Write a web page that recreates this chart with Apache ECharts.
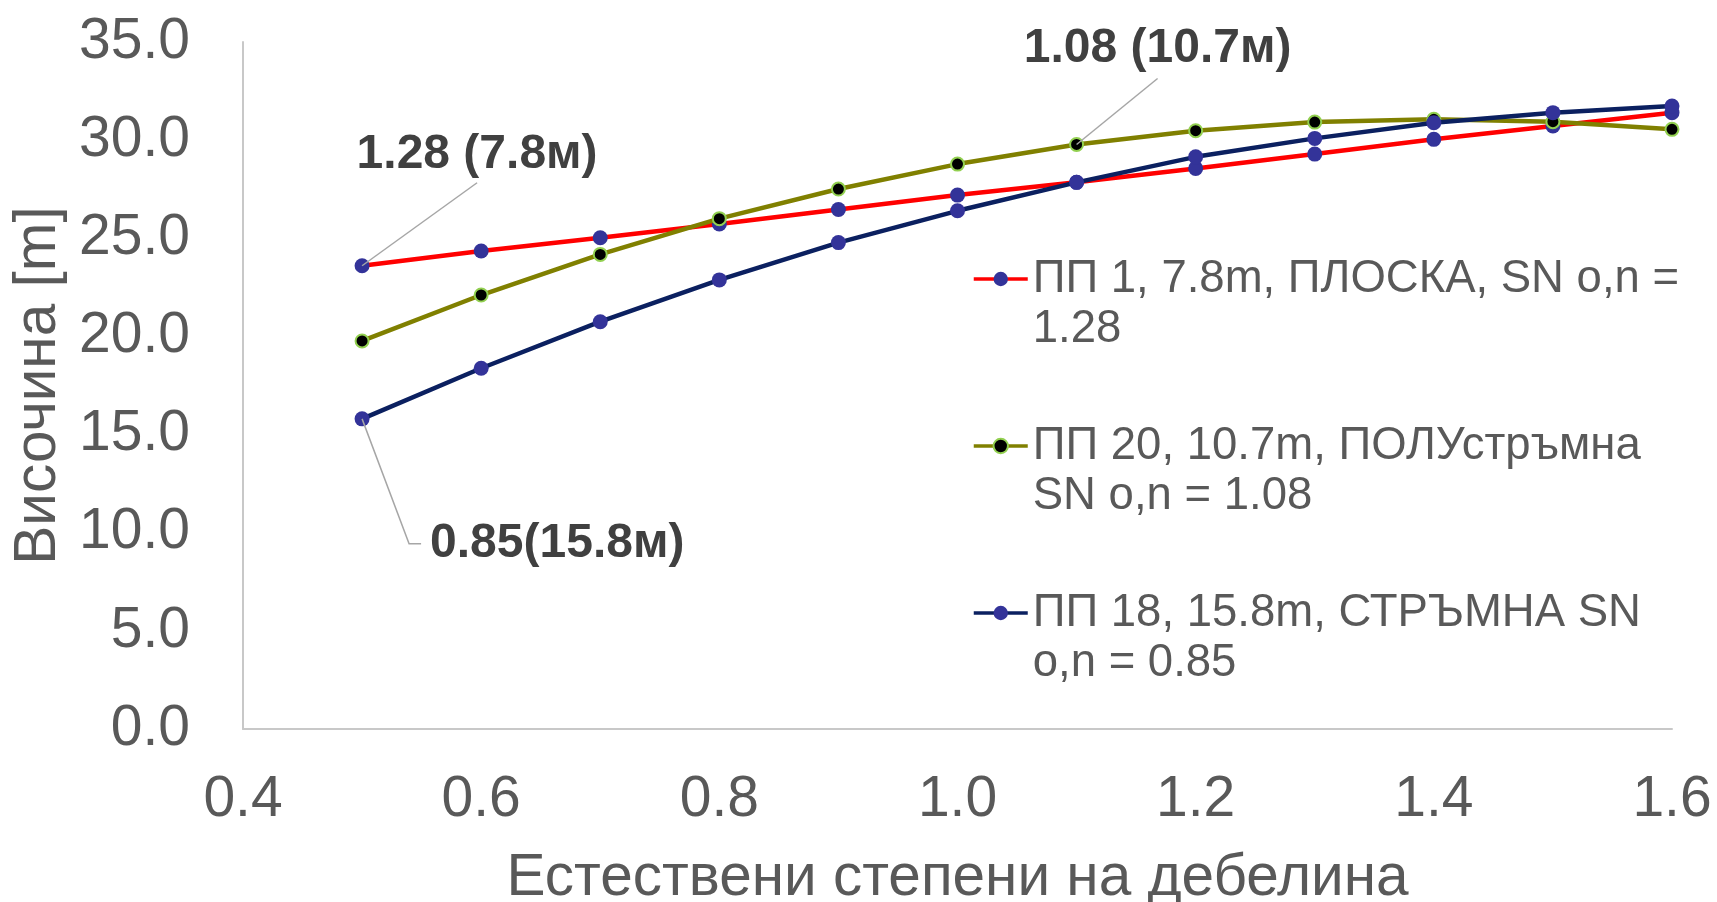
<!DOCTYPE html>
<html>
<head>
<meta charset="utf-8">
<title>Височина и естествени степени на дебелина</title>
<script src="https://cdn.jsdelivr.net/npm/echarts@6/dist/echarts.min.js"></script>
<style>
  html, body { margin: 0; padding: 0; background: #ffffff; }
  #chart { width: 1717px; height: 902px; }
</style>
</head>
<body>
<div id="chart"></div>
<script>
// Natural thickness degrees (x) and tree heights in metres (y) for three sample plots
const xValues = [0.5, 0.6, 0.7, 0.8, 0.9, 1.0, 1.1, 1.2, 1.3, 1.4, 1.5, 1.6];
const heightsPP1 = [23.6, 24.35, 25.03, 25.73, 26.47, 27.2, 27.85, 28.56, 29.29, 30.04, 30.72, 31.4];
const heightsPP20 = [19.77, 22.11, 24.18, 26.0, 27.51, 28.78, 29.78, 30.48, 30.92, 31.06, 30.94, 30.55];
const heightsPP18 = [15.8, 18.38, 20.75, 22.88, 24.78, 26.4, 27.85, 29.15, 30.09, 30.89, 31.4, 31.74];

const seriesLegendLines = [
  ['ПП 1, 7.8m, ПЛОСКА, SN o,n =', '1.28'],
  ['ПП 20, 10.7m, ПОЛУстръмна', 'SN o,n = 1.08'],
  ['ПП 18, 15.8m, СТРЪМНА SN', 'o,n = 0.85']
];
const seriesNames = seriesLegendLines.map(l => l.join(' '));

// Callout texts and the point each one refers to (series index, data index)
const calloutTexts = ['1.28 (7.8м)', '1.08 (10.7м)', '0.85(15.8м)'];
const calloutSeries = [0, 1, 2];
const calloutIndex = [0, 6, 0];

const yMin = 0, yMax = 35, yStep = 5;
const xMin = 0.4, xMax = 1.6, xStep = 0.2;

const FONT = '"Liberation Sans", Arial, sans-serif';
const TEXT_COLOR = '#595959';
const AXIS_COLOR = '#c8c8c8';

function pairs(ys) { return xValues.map((x, i) => [x, ys[i]]); }

const chart = echarts.init(document.getElementById('chart'), null, { renderer: 'canvas' });

const option = {
  animation: false,
  backgroundColor: '#ffffff',
  grid: { left: 243, right: 45, top: 42, bottom: 173, containLabel: false, outerBoundsMode: 'none' },
  xAxis: {
    type: 'value',
    min: xMin, max: xMax, interval: xStep,
    name: 'Естествени степени на дебелина',
    nameLocation: 'middle',
    nameGap: 120,
    nameTextStyle: { fontFamily: FONT, fontSize: 58.5, color: TEXT_COLOR },
    axisLine: { show: true, onZero: false, lineStyle: { color: AXIS_COLOR, width: 2 } },
    axisTick: { show: false },
    splitLine: { show: false },
    axisLabel: {
      fontFamily: FONT, fontSize: 57, color: TEXT_COLOR, margin: 43,
      formatter: v => v.toFixed(1)
    }
  },
  yAxis: {
    type: 'value',
    min: yMin, max: yMax, interval: yStep,
    name: 'Височина [m]',
    nameLocation: 'middle',
    nameGap: 166,
    nameTextStyle: { fontFamily: FONT, fontSize: 58.5, color: TEXT_COLOR },
    axisLine: { show: true, lineStyle: { color: AXIS_COLOR, width: 2 } },
    axisTick: { show: false },
    splitLine: { show: false },
    axisLabel: {
      fontFamily: FONT, fontSize: 57, color: TEXT_COLOR, margin: 53,
      formatter: v => v.toFixed(1)
    }
  },
  legend: {
    orient: 'vertical',
    left: 972,
    top: 204,
    padding: 0,
    itemWidth: 54,
    itemHeight: 18,
    itemGap: 17,
    selectedMode: false,
    data: seriesNames,
    lineStyle: { width: 3.5 },
    textStyle: { fontFamily: FONT, fontSize: 45.5, lineHeight: 50, color: TEXT_COLOR },
    // a blank first line keeps the marker level with the first text line
    formatter: name => ' \n' + seriesLegendLines[seriesNames.indexOf(name)].join('\n')
  },
  series: [
    {
      name: seriesNames[0],
      type: 'line',
      data: pairs(heightsPP1),
      symbol: 'circle',
      symbolSize: 15,
      lineStyle: { color: '#ff0000', width: 4.5 },
      itemStyle: { color: '#333399', borderWidth: 0 },
      z: 2
    },
    {
      name: seriesNames[1],
      type: 'line',
      data: pairs(heightsPP20),
      symbol: 'circle',
      symbolSize: 13,
      lineStyle: { color: '#808000', width: 4.5 },
      itemStyle: { color: '#000000', borderColor: '#92d050', borderWidth: 2 },
      z: 3
    },
    {
      name: seriesNames[2],
      type: 'line',
      data: pairs(heightsPP18),
      symbol: 'circle',
      symbolSize: 15,
      lineStyle: { color: '#0b2060', width: 4.5 },
      itemStyle: { color: '#333399', borderWidth: 0 },
      z: 4
    }
  ]
};

chart.setOption(option);

// Callouts: label offsets relative to the referenced point, plus leader line shape
const seriesValues = [heightsPP1, heightsPP20, heightsPP18];
const calloutLayout = [
  { dx: 115, dy: -111, align: 'center', leader: [[0, 0], [115, -83]] },
  { dx: 81, dy: -96, align: 'center', leader: [[0, 0], [81, -66]] },
  { dx: 68, dy: 125, align: 'left', leader: [[0, 0], [47, 125], [59, 125]] }
];

const graphics = [];
calloutTexts.forEach((txt, k) => {
  const s = calloutSeries[k];
  const i = calloutIndex[k];
  const p = chart.convertToPixel({ xAxisIndex: 0, yAxisIndex: 0 }, [xValues[i], seriesValues[s][i]]);
  const L = calloutLayout[k];
  graphics.push({
    type: 'polyline',
    z: 100,
    silent: true,
    shape: { points: L.leader.map(q => [p[0] + q[0], p[1] + q[1]]) },
    style: { stroke: '#a6a6a6', lineWidth: 1.5, fill: null }
  });
  graphics.push({
    type: 'text',
    z: 100,
    silent: true,
    x: p[0] + L.dx,
    y: p[1] + L.dy,
    style: {
      text: txt,
      font: 'bold 48px ' + FONT,
      fill: '#404040',
      align: L.align,
      verticalAlign: 'middle'
    }
  });
});
chart.setOption({ graphic: graphics });
</script>
</body>
</html>
